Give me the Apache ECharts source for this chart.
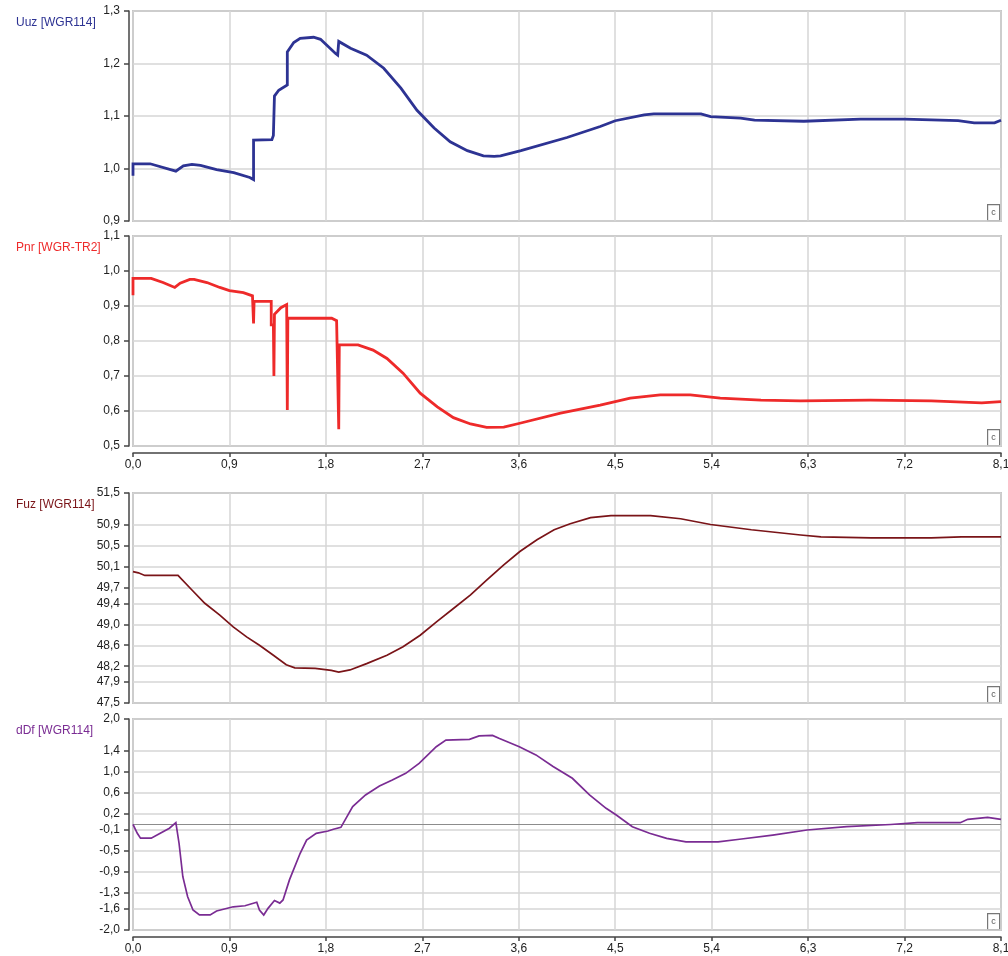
<!DOCTYPE html>
<html><head><meta charset="utf-8">
<script src="https://cdn.jsdelivr.net/npm/echarts@6/dist/echarts.min.js"></script>
<style>html,body{margin:0;padding:0;background:#fff}#c{width:1008px;height:956px}</style>
</head><body><div id="c"></div>
<script>
// ---- data (time in s) ----
const uuzT=[0,0,0.16,0.40,0.47,0.55,0.63,0.78,0.94,1.09,1.125,1.125,1.296,1.31,1.32,1.36,1.44,1.44,1.50,1.56,1.685,1.75,1.89,1.91,1.92,2.03,2.18,2.34,2.50,2.65,2.81,2.96,3.12,3.27,3.37,3.43,3.62,4.05,4.36,4.50,4.77,4.86,5.30,5.39,5.67,5.80,6.26,6.79,7.20,7.70,7.85,8.04,8.10];
const uuzV=[0.986,1.009,1.009,0.995,1.005,1.008,1.006,0.998,0.992,0.983,0.979,1.054,1.055,1.063,1.138,1.149,1.159,1.222,1.240,1.248,1.250,1.246,1.219,1.216,1.242,1.229,1.216,1.191,1.153,1.111,1.077,1.051,1.034,1.024,1.023,1.024,1.034,1.059,1.080,1.091,1.102,1.104,1.104,1.099,1.096,1.092,1.090,1.094,1.094,1.091,1.087,1.087,1.092];

const pnrT=[0,0,0.17,0.28,0.39,0.44,0.53,0.57,0.69,0.81,0.90,1.03,1.115,1.12,1.125,1.13,1.29,1.29,1.31,1.315,1.32,1.38,1.434,1.44,1.445,1.854,1.90,1.916,1.92,1.925,2.10,2.24,2.37,2.52,2.68,2.84,2.99,3.15,3.30,3.46,3.61,3.99,4.36,4.64,4.92,5.20,5.48,5.86,6.23,6.88,7.45,7.92,8.10];
const pnrV=[0.931,0.979,0.979,0.967,0.953,0.965,0.976,0.976,0.967,0.953,0.944,0.938,0.929,0.929,0.850,0.913,0.913,0.846,0.846,0.700,0.876,0.895,0.904,0.603,0.865,0.865,0.858,0.855,0.548,0.789,0.789,0.774,0.750,0.708,0.651,0.612,0.581,0.563,0.553,0.554,0.565,0.594,0.617,0.637,0.646,0.646,0.637,0.631,0.629,0.631,0.629,0.623,0.627];

const fuzT=[0,0.05,0.11,0.42,0.55,0.67,0.81,0.935,1.06,1.18,1.31,1.43,1.51,1.70,1.71,1.85,1.92,2.025,2.18,2.37,2.52,2.68,2.835,2.99,3.15,3.30,3.46,3.61,3.77,3.93,4.08,4.27,4.46,4.83,5.11,5.39,5.77,6.23,6.42,6.89,7.45,7.73,8.10];
const fuzV=[50.003,49.98,49.93,49.93,49.653,49.40,49.175,48.95,48.76,48.60,48.41,48.23,48.17,48.16,48.13,48.12,48.09,48.13,48.25,48.41,48.57,48.79,49.05,49.30,49.56,49.84,50.13,50.385,50.61,50.80,50.915,51.03,51.07,51.07,51.01,50.90,50.80,50.70,50.665,50.645,50.645,50.665,50.665];

const ddfT=[0,0.04,0.07,0.17,0.25,0.34,0.40,0.43,0.465,0.51,0.56,0.62,0.72,0.78,0.935,1.045,1.155,1.18,1.22,1.26,1.32,1.37,1.40,1.46,1.56,1.62,1.71,1.82,1.87,1.94,2.05,2.17,2.30,2.42,2.545,2.67,2.83,2.92,3.14,3.23,3.355,3.42,3.605,3.76,3.92,4.10,4.26,4.415,4.51,4.66,4.82,4.98,5.16,5.46,5.66,5.97,6.29,6.66,7.07,7.32,7.72,7.79,7.975,8.10];
const ddfV=[0.004,-0.167,-0.26,-0.26,-0.17,-0.07,0.034,-0.36,-0.99,-1.37,-1.62,-1.715,-1.715,-1.64,-1.56,-1.54,-1.475,-1.62,-1.715,-1.59,-1.44,-1.49,-1.43,-1.05,-0.546,-0.294,-0.167,-0.123,-0.09,-0.053,0.34,0.56,0.73,0.844,0.97,1.16,1.475,1.60,1.615,1.68,1.69,1.63,1.475,1.32,1.10,0.876,0.56,0.307,0.18,-0.042,-0.167,-0.262,-0.33,-0.33,-0.28,-0.2,-0.104,-0.042,0.0,0.034,0.034,0.098,0.136,0.098];

// tick values
const fuzTicks=[51.5,50.9,50.5,50.1,49.7,49.4,49.0,48.6,48.2,47.9,47.5];
const ddfTicks=[2.0,1.4,1.0,0.6,0.2,-0.1,-0.5,-0.9,-1.3,-1.6,-2.0];

const titles=['Uuz [WGR114]','Pnr [WGR-TR2]','Fuz [WGR114]','dDf [WGR114]'];
const colors=['#2D3393','#EE2A2A','#7A1418','#7A2C93'];

// ---- chart ----
const pairs=(t,v)=>t.map((x,i)=>[x,v[i]]);
const fmt=v=>(Math.round(v*10)/10).toFixed(1).replace('.',',');
const layout=[{top:11,height:210},{top:236,height:210},{top:493,height:210},{top:719,height:211}];
const fontFamily='"Liberation Sans", Arial, sans-serif';
const axisCol='#444', gridCol='#d6d6d6';

const grid=layout.map(g=>({left:133,right:7,top:g.top,height:g.height,show:true,borderColor:'#9a9a9a',borderWidth:1.5,backgroundColor:'#fff',outerBoundsMode:'none'}));

const xAxis=layout.map((g,i)=>{const lab=(i===1||i===3);return {
  type:'value',gridIndex:i,min:0,max:8.1,interval:0.9,offset:7,
  axisLine:{show:lab,onZero:false,lineStyle:{color:axisCol,width:1.5}},
  axisTick:{show:lab,length:4,lineStyle:{color:axisCol,width:1.5}},
  axisLabel:{show:lab,formatter:fmt,color:'#222',fontSize:12,margin:6,fontFamily},
  splitLine:{show:true,lineStyle:{color:gridCol,width:1.5}}
};});

const yBase=i=>({type:'value',gridIndex:i,offset:4,
  axisLine:{show:true,onZero:false,lineStyle:{color:axisCol,width:1.5}},
  axisTick:{show:true,length:5,lineStyle:{color:axisCol,width:1.5}},
  axisLabel:{formatter:fmt,color:'#222',fontSize:12,margin:9,fontFamily,showMinLabel:true,showMaxLabel:true},
  splitLine:{show:true,lineStyle:{color:gridCol,width:1.5}}});

const yAxis=[
  Object.assign(yBase(0),{min:0.9,max:1.3,interval:0.1}),
  Object.assign(yBase(1),{min:0.5,max:1.1,interval:0.1}),
  Object.assign(yBase(2),{min:47.5,max:51.5}),
  Object.assign(yBase(3),{min:-2.0,max:2.0})
];
yAxis[2].axisLabel.customValues=fuzTicks; yAxis[2].axisTick.customValues=fuzTicks;
yAxis[3].axisLabel.customValues=ddfTicks; yAxis[3].axisTick.customValues=ddfTicks;

const dataSets=[pairs(uuzT,uuzV),pairs(pnrT,pnrV),pairs(fuzT,fuzV),pairs(ddfT,ddfV)];
const widths=[2.8,2.8,1.7,1.7];
const series=dataSets.map((d,i)=>({type:'line',xAxisIndex:i,yAxisIndex:i,data:d,showSymbol:false,symbol:'none',
  lineStyle:{color:colors[i],width:widths[i],join:'miter'},itemStyle:{color:colors[i]},silent:true,z:3}));
series[3].markLine={silent:true,symbol:'none',label:{show:false},lineStyle:{color:'#8c8c8c',width:1.2,type:'solid'},data:[{yAxis:0}],z:2};

const title=layout.map((g,i)=>({text:titles[i],left:11,top:g.top+1,textStyle:{fontSize:12,fontWeight:'normal',color:colors[i],fontFamily}}));

const graphic=layout.map(g=>({type:'group',left:987,top:g.top+g.height-17,children:[
  {type:'rect',shape:{x:0,y:0,width:12,height:16},style:{fill:'#fff',stroke:'#777',lineWidth:1.2}},
  {type:'text',x:6,y:8,style:{text:'c',fill:'#555',font:'9px '+fontFamily,textAlign:'center',textVerticalAlign:'middle'}}
]}));

const chart=echarts.init(document.getElementById('c'),null,{renderer:'canvas'});
chart.setOption({animation:false,backgroundColor:'#fff',title,grid,xAxis,yAxis,series,graphic});
</script></body></html>
